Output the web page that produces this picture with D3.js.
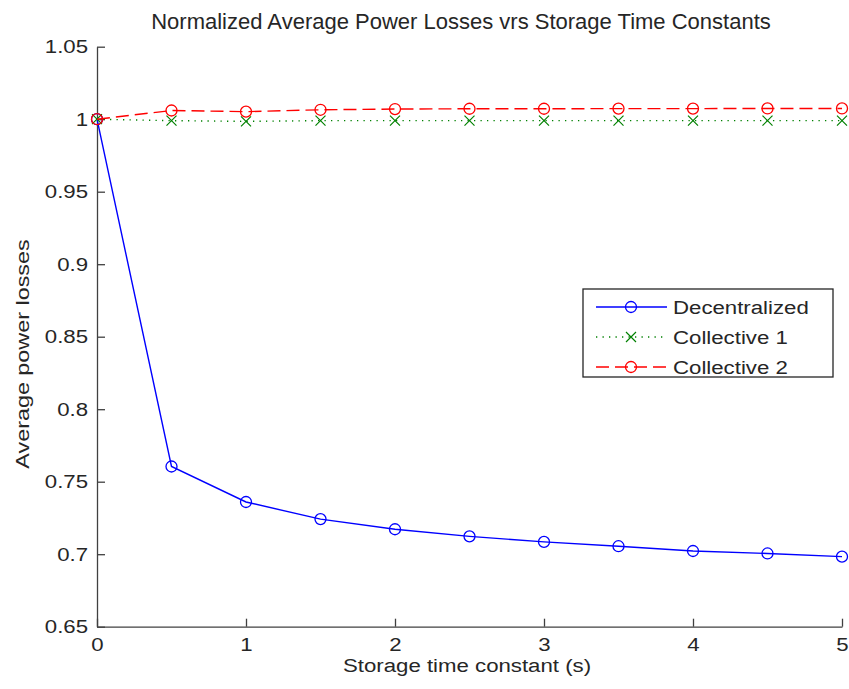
<!DOCTYPE html>
<html>
<head>
<meta charset="utf-8">
<script src="https://cdn.jsdelivr.net/npm/d3@7.9.0/dist/d3.min.js"></script>
<style>
  body { margin: 0; background: #fff; }
  svg { display: block; font-family: "Liberation Sans", Arial, sans-serif; }
</style>
</head>
<body>
<div id="chart"></div>
<script>
// storage time constant (s)
const timeConstants = [0, 0.5, 1, 1.5, 2, 2.5, 3, 3.5, 4, 4.5, 5];

// normalized average power losses
const decentralized = [1, 0.7605, 0.736, 0.7242, 0.7172, 0.7123, 0.7085, 0.7055, 0.7022, 0.7005, 0.6983];
const collective1 = [1, 0.999, 0.9985, 0.999, 0.999, 0.999, 0.999, 0.999, 0.999, 0.999, 0.999];
const collective2 = [1, 1.006, 1.0052, 1.0065, 1.007, 1.0072, 1.0072, 1.0073, 1.0073, 1.0074, 1.0074];

const xTicks = [0, 1, 2, 3, 4, 5];
const yTicks = [0.65, 0.7, 0.75, 0.8, 0.85, 0.9, 0.95, 1, 1.05];

const width = 849;
const height = 689;
const stretch = 1.17; // the original text renders wider than Liberation Sans

const series = [
  { name: 'Decentralized', values: decentralized, color: '#0000ff', dash: null, marker: 'circle' },
  { name: 'Collective 1', values: collective1, color: '#008000', dash: '1.3,5.2', marker: 'x' },
  { name: 'Collective 2', values: collective2, color: '#ff0000', dash: '13,6', marker: 'circle' },
];

const svg = d3.select('#chart')
  .append('svg')
  .attr('width', width)
  .attr('height', height);

const area = { left: 97, right: 842, top: 46.7, bottom: 626.7 };

const xScale = d3.scaleLinear().domain([0, 5]).range([area.left, area.right]);
const yScale = d3.scaleLinear().domain([0.65, 1.05]).range([area.bottom, area.top]);

// axes (MATLAB style: ticks pointing inward, no box)
const xAxis = d3.axisBottom(xScale)
  .tickValues(xTicks)
  .tickSizeInner(-8)
  .tickSizeOuter(0)
  .tickPadding(11)
  .tickFormat(d3.format('d'));

const yAxis = d3.axisLeft(yScale)
  .tickValues(yTicks)
  .tickSizeInner(-8)
  .tickSizeOuter(0)
  .tickPadding(9)
  .tickFormat((d) => String(+d.toFixed(2)));

const gx = svg.append('g')
  .attr('transform', `translate(0, ${area.bottom})`)
  .call(xAxis);

const gy = svg.append('g')
  .attr('transform', `translate(${area.left}, 0)`)
  .call(yAxis);

[gx, gy].forEach((g) => {
  g.select('.domain').attr('stroke', '#404040').attr('stroke-width', 1.3);
  g.selectAll('.tick line').attr('stroke', '#404040').attr('stroke-width', 1.3);
  g.selectAll('.tick text')
    .attr('fill', '#262626')
    .attr('transform', `scale(${stretch},1)`)
    .style('font-size', '19px')
    .style('font-family', '"Liberation Sans", Arial, sans-serif');
});
gx.selectAll('.tick text').attr('dy', '0.71em');
gy.selectAll('.tick text').attr('x', -9 / stretch);

// lines
const line = d3.line()
  .x((d, i) => xScale(timeConstants[i]))
  .y((d) => yScale(d));

function drawMarker(g, type, color) {
  if (type === 'circle') {
    g.append('circle')
      .attr('r', 5.5)
      .attr('fill', 'none')
      .attr('stroke', color)
      .attr('stroke-width', 1.3);
  } else {
    g.append('path')
      .attr('d', 'M-5,-5L5,5M-5,5L5,-5')
      .attr('stroke', color)
      .attr('stroke-width', 1.2);
  }
}

const plot = svg.append('g');

series.forEach((s) => {
  plot.append('path')
    .datum(s.values)
    .attr('d', line)
    .attr('fill', 'none')
    .attr('stroke', s.color)
    .attr('stroke-width', 1.4)
    .attr('stroke-dasharray', s.dash);

  plot.append('g')
    .selectAll('g')
    .data(s.values)
    .join('g')
    .attr('transform', (d, i) => `translate(${xScale(timeConstants[i])}, ${yScale(d)})`)
    .each(function () { drawMarker(d3.select(this), s.marker, s.color); });
});

// title and labels
svg.append('text')
  .attr('x', 461)
  .attr('y', 29)
  .attr('text-anchor', 'middle')
  .attr('fill', '#262626')
  .style('font-size', '22px')
  .text('Normalized Average Power Losses vrs Storage Time Constants');

svg.append('text')
  .attr('transform', `translate(467, 672) scale(${stretch},1)`)
  .attr('text-anchor', 'middle')
  .attr('fill', '#262626')
  .style('font-size', '19px')
  .text('Storage time constant (s)');

svg.append('text')
  .attr('transform', 'translate(29, 354) rotate(-90) scale(1.23,1)')
  .attr('text-anchor', 'middle')
  .attr('fill', '#262626')
  .style('font-size', '19px')
  .text('Average power losses');

// legend
const legend = svg.append('g').attr('transform', 'translate(583, 289)');
legend.append('rect')
  .attr('width', 250)
  .attr('height', 88)
  .attr('fill', '#fff')
  .attr('stroke', '#262626')
  .attr('stroke-width', 1.3);

series.forEach((s, i) => {
  const row = legend.append('g').attr('transform', `translate(0, ${18 + i * 30})`);
  row.append('line')
    .attr('x1', 13)
    .attr('x2', 84)
    .attr('stroke', s.color)
    .attr('stroke-width', 1.4)
    .attr('stroke-dasharray', s.dash);
  const m = row.append('g').attr('transform', 'translate(48, 0)');
  drawMarker(m, s.marker, s.color);
  row.append('text')
    .attr('transform', `translate(90, 0) scale(${stretch},1)`)
    .attr('dy', '0.35em')
    .attr('fill', '#262626')
    .style('font-size', '19px')
    .text(s.name);
});
</script>
</body>
</html>
